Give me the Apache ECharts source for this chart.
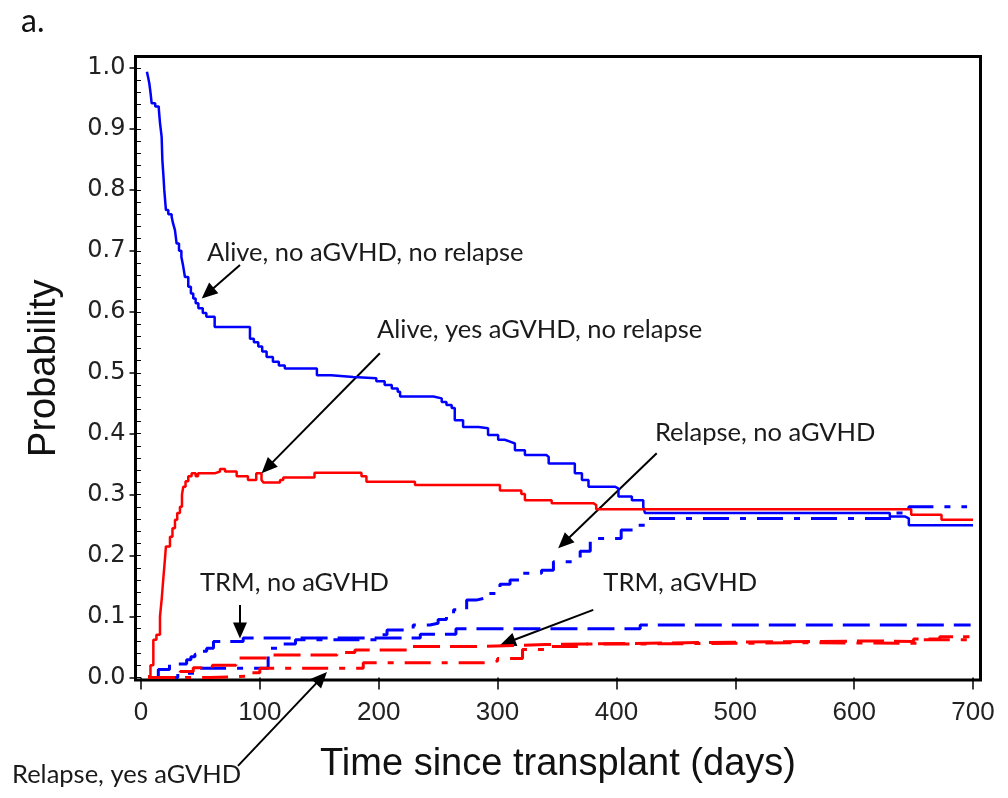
<!DOCTYPE html>
<html>
<head>
<meta charset="utf-8">
<script src="https://cdn.jsdelivr.net/npm/echarts@6/dist/echarts.min.js"></script>
<style>
  html, body { margin: 0; padding: 0; background: #fff; }
  #chart { width: 1008px; height: 798px; }
</style>
</head>
<body>
<div id="chart"></div>
<script>
// axis ticks
const xTicks = [0, 100, 200, 300, 400, 500, 600, 700];
const yTicks = [0, 0.1, 0.2, 0.3, 0.4, 0.5, 0.6, 0.7, 0.8, 0.9, 1.0];
const yMinorTicks = [
  0, 0.02, 0.04, 0.06, 0.08, 0.1, 0.12, 0.14, 0.16, 0.18, 0.2, 0.22, 0.24, 0.26, 0.28,
  0.3, 0.32, 0.34, 0.36, 0.38, 0.4, 0.42, 0.44, 0.46, 0.48, 0.5, 0.52, 0.54, 0.56, 0.58,
  0.6, 0.62, 0.64, 0.66, 0.68, 0.7, 0.72, 0.74, 0.76, 0.78, 0.8, 0.82, 0.84, 0.86, 0.88,
  0.9, 0.92, 0.94, 0.96, 0.98, 1.0,
];

// [days, probability], value holds until the next step
const aliveNoGvhd = [
  [5, 0.994], [6, 0.985], [7, 0.975], [8, 0.96], [9, 0.942], [12, 0.937], [15, 0.933],
  [16, 0.91], [17.4, 0.887], [18, 0.849], [19, 0.82], [19.6, 0.8], [21, 0.767], [23, 0.76],
  [25.8, 0.756], [27, 0.745], [28.6, 0.734], [30, 0.712], [32, 0.7], [34, 0.69], [35.5, 0.675],
  [37, 0.657], [39.8, 0.641], [42, 0.63], [44, 0.622], [46, 0.614], [48.3, 0.606], [52, 0.598],
  [55, 0.592], [62, 0.575], [91.7, 0.556], [95, 0.55], [98.7, 0.543], [102, 0.535],
  [105.7, 0.526], [111, 0.518], [116, 0.512], [121, 0.507], [148, 0.496], [160, 0.493],
  [178.6, 0.491], [198, 0.486], [205, 0.48], [211, 0.474], [216, 0.469], [218, 0.461],
  [246, 0.458], [253, 0.452], [257, 0.447], [261.4, 0.442], [264, 0.422], [271, 0.411],
  [284, 0.409], [292, 0.398], [300.5, 0.39], [306, 0.387], [310.5, 0.384], [314.6, 0.373],
  [323, 0.365], [341, 0.362], [343, 0.351], [365, 0.335], [371, 0.324], [376.5, 0.313],
  [399, 0.31], [401.7, 0.297], [413, 0.291], [422.6, 0.28], [424, 0.27], [630, 0.264],
  [643, 0.261], [646, 0.25], [700, 0.25],
];
const aliveGvhd = [
  [6, 0.002], [8, 0.02], [10.4, 0.062], [13, 0.07], [16, 0.1], [17.5, 0.13], [18.7, 0.16],
  [20, 0.19], [21, 0.215], [24.4, 0.231], [26.5, 0.245], [28.6, 0.259], [30.5, 0.27],
  [32.8, 0.28], [34.5, 0.3], [35.6, 0.313], [37.5, 0.322], [39.8, 0.33], [42.6, 0.335],
  [46, 0.33], [48, 0.335], [62, 0.338], [66.5, 0.342], [70.7, 0.338], [80.5, 0.33],
  [90, 0.324], [97, 0.335], [101.4, 0.324], [103, 0.32], [117, 0.324], [119.7, 0.328],
  [146, 0.336], [185.5, 0.33], [189.7, 0.321], [230.5, 0.316], [302, 0.307], [320, 0.301],
  [323, 0.291], [345.5, 0.286], [380.5, 0.283], [383, 0.276], [648, 0.267], [673.5, 0.259],
  [700, 0.259],
];
const trmNoGvhd = [
  [12, 0], [14.6, 0.013], [24, 0.022], [38.4, 0.029], [42, 0.034], [45.4, 0.038], [50, 0.043],
  [55.3, 0.048], [61, 0.059], [86, 0.065], [235, 0.071], [265, 0.08], [420, 0.086], [698, 0.086],
];
const relapseNoGvhd = [
  [12, 0], [31, 0.007], [48, 0.015], [107, 0.048], [120, 0.055], [130, 0.062], [201, 0.07],
  [207, 0.078], [229, 0.086], [243, 0.089], [250, 0.095], [257, 0.1], [263, 0.111],
  [274, 0.127], [282, 0.13], [289, 0.138], [302, 0.153], [310.5, 0.16], [321.6, 0.171],
  [337, 0.176], [347, 0.19], [364, 0.193], [369.5, 0.207], [378, 0.228], [404, 0.242],
  [417, 0.25], [424, 0.261], [632, 0.27], [646, 0.28], [695, 0.28],
];
const trmGvhd = [
  [6, 0], [33, 0.01], [44, 0.016], [60, 0.02], [80, 0.032], [107, 0.037], [165, 0.041],
  [180, 0.045], [225, 0.051], [285, 0.054], [340, 0.055], [375, 0.058], [500, 0.06],
  [616, 0.059], [650, 0.063], [672, 0.067], [697, 0.067],
];
const relapseGvhd = [
  [6, 0], [58, 0.002], [90, 0.008], [100, 0.015], [187, 0.024], [291, 0.027], [300, 0.031],
  [321, 0.046], [345, 0.051], [372, 0.055], [420, 0.057], [560, 0.056], [655, 0.062],
  [697, 0.06],
];

// callouts: label anchor (left, middle) and arrow from -> to, all in data units
const notes = [
  { text: 'Alive, no aGVHD, no relapse', at: [55.5, 0.697], from: [83.3, 0.677], to: [51.1, 0.622] },
  { text: 'Alive, yes aGVHD, no relapse', at: [198.6, 0.57], from: [201, 0.532], to: [101.5, 0.335] },
  { text: 'Relapse, no aGVHD', at: [432.4, 0.401], from: [433.9, 0.368], to: [351, 0.212] },
  { text: 'TRM, no aGVHD', at: [49.6, 0.155], from: [83.3, 0.119], to: [83.3, 0.064] },
  { text: 'TRM, aGVHD', at: [389, 0.155], from: [380.5, 0.111], to: [302, 0.053] },
  { text: 'Relapse, yes aGVHD', at: [-108.5, -0.16], from: [81.6, -0.145], to: [156.5, 0.009] },
];

const BLUE = '#0000ff';
const RED = '#ff0000';
const LONG_DASH = [27, 10];
const DASH_DOT = [26, 11, 6, 11];
const SANS = "'Liberation Sans', Arial, sans-serif";
const TICK_FONT = "'DejaVu Sans', Verdana, sans-serif";

const chart = echarts.init(document.getElementById('chart'), null, { renderer: 'canvas' });

function stepSeries(name, data, color, type, width) {
  return {
    name,
    type: 'line',
    step: 'end',
    data,
    showSymbol: false,
    silent: true,
    clip: false,
    lineStyle: { color, width, type },
  };
}

chart.setOption({
  animation: false,
  backgroundColor: '#fff',
  grid: {
    left: 135.5,
    right: 27.5,
    top: 56.5,
    bottom: 118,
    show: true,
    borderColor: '#000',
    borderWidth: 3,
    backgroundColor: 'transparent',
  },
  xAxis: {
    type: 'value',
    min: -4.6,
    max: 706.3,
    splitLine: { show: false },
    axisLine: { show: false },
    axisTick: { customValues: xTicks, length: 12, lineStyle: { color: '#000', width: 1.5 } },
    axisLabel: {
      customValues: xTicks,
      margin: 20,
      color: '#222',
      fontFamily: SANS,
      fontSize: 26,
    },
    name: 'Time since transplant (days)',
    nameLocation: 'middle',
    nameGap: 66,
    nameTextStyle: { fontFamily: SANS, fontSize: 38, color: '#111' },
  },
  yAxis: [
    {
      type: 'value',
      min: -0.0041,
      max: 1.0189,
      splitLine: { show: false },
      axisLine: { show: false },
      axisTick: { customValues: yMinorTicks, length: 4, lineStyle: { color: '#000', width: 1 } },
      axisLabel: {
        customValues: yTicks,
        margin: 10,
        color: '#222',
        fontFamily: TICK_FONT,
        fontSize: 24,
        formatter: (v) => v.toFixed(1),
      },
      name: 'Probability',
      nameLocation: 'middle',
      nameGap: 72,
      nameRotate: 90,
      nameTextStyle: { fontFamily: SANS, fontSize: 38, color: '#111' },
    },
    {
      type: 'value',
      position: 'left',
      min: -0.0041,
      max: 1.0189,
      splitLine: { show: false },
      axisLine: { show: false },
      axisLabel: { show: false },
      axisTick: { customValues: yTicks, length: 6, lineStyle: { color: '#000', width: 1.5 } },
    },
  ],
  series: [
    stepSeries('Alive, no aGVHD, no relapse', aliveNoGvhd, BLUE, 'solid', 2.5),
    stepSeries('Alive, yes aGVHD, no relapse', aliveGvhd, RED, 'solid', 2.5),
    stepSeries('TRM, no aGVHD', trmNoGvhd, BLUE, LONG_DASH, 3),
    stepSeries('Relapse, no aGVHD', relapseNoGvhd, BLUE, DASH_DOT, 3),
    stepSeries('TRM, aGVHD', trmGvhd, RED, LONG_DASH, 3),
    stepSeries('Relapse, yes aGVHD', relapseGvhd, RED, DASH_DOT, 3),
  ],
});

// callout texts and arrows, placed through the axes
const toPx = (pt) => chart.convertToPixel({ xAxisIndex: 0, yAxisIndex: 0 }, pt);

function arrowParts(from, to) {
  const a = toPx(from);
  const b = toPx(to);
  const dx = b[0] - a[0];
  const dy = b[1] - a[1];
  const len = Math.sqrt(dx * dx + dy * dy);
  const ux = dx / len;
  const uy = dy / len;
  const headLen = 16;
  const headW = 7;
  const bx = b[0] - ux * headLen;
  const by = b[1] - uy * headLen;
  return [
    {
      type: 'line',
      silent: true,
      shape: { x1: a[0], y1: a[1], x2: bx + ux * 2, y2: by + uy * 2 },
      style: { stroke: '#000', lineWidth: 2 },
    },
    {
      type: 'polygon',
      silent: true,
      shape: {
        points: [
          [b[0], b[1]],
          [bx - uy * headW, by + ux * headW],
          [bx + uy * headW, by - ux * headW],
        ],
      },
      style: { fill: '#000' },
    },
  ];
}

const graphics = [
  {
    type: 'text',
    left: 21,
    top: 6,
    style: { text: 'a.', font: '32px Lato', fill: '#111' },
  },
];
notes.forEach((n) => {
  const p = toPx(n.at);
  graphics.push({
    type: 'text',
    silent: true,
    x: p[0],
    y: p[1],
    style: {
      text: n.text,
      font: '25.5px Lato',
      fill: '#1a1a1a',
      align: 'left',
      verticalAlign: 'middle',
    },
  });
  graphics.push(...arrowParts(n.from, n.to));
});

chart.setOption({ graphic: graphics });
</script>
</body>
</html>
